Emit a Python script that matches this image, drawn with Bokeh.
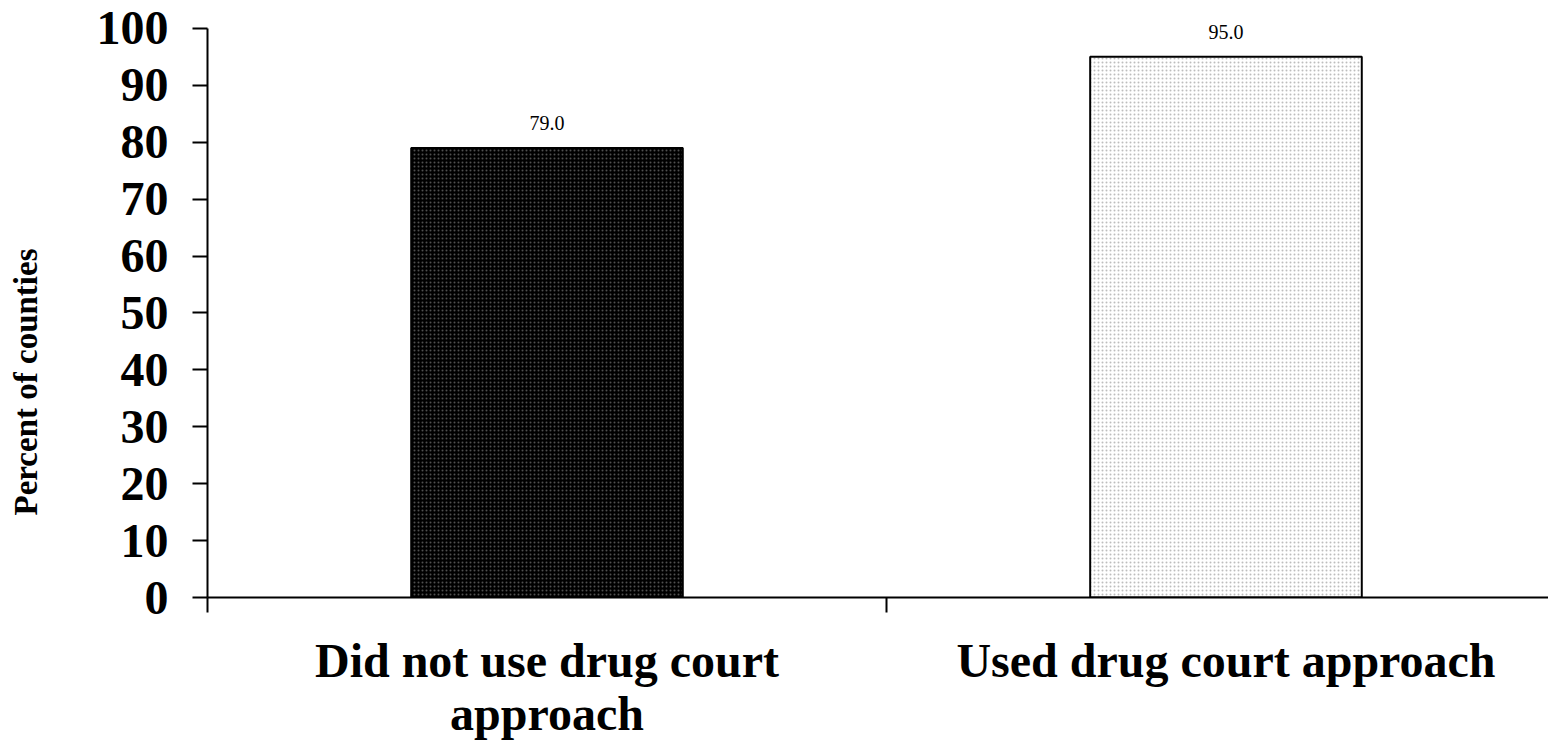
from bokeh.plotting import figure
from bokeh.models import FixedTicker, Range1d, ColumnDataSource, Title
from bokeh.core.properties import value
from bokeh.embed import file_html
from bokeh.resources import INLINE

categories = ["Did not use drug court\napproach", "Used drug court approach"]
percents = [79.0, 95.0]
value_labels = ["79.0", "95.0"]
fills = ["#000000", "#ffffff"]
hatch_colors = ["#505050", "#bdbdbd"]
y_ticks = [0, 10, 20, 30, 40, 50, 60, 70, 80, 90, 100]
y_title = "Percent of counties"

SERIF = "Liberation Serif"

x_pos = [i + 0.5 for i in range(len(categories))]
boundaries = [float(i) for i in range(len(categories) + 1)]
src = ColumnDataSource(dict(x=x_pos, top=percents, lab=value_labels,
                            fill=fills, hatch=hatch_colors))

p = figure(width=1548, height=744, output_backend="svg", toolbar_location=None,
           x_range=Range1d(0, 1.975), y_range=Range1d(0, 104.9),
           min_border_left=207, min_border_right=0, min_border_top=0,
           min_border_bottom=147)
p.outline_line_color = None
p.xgrid.visible = False
p.ygrid.visible = False
p.background_fill_color = "white"
p.border_fill_color = "white"

p.vbar(x="x", top="top", bottom=0, width=0.4, source=src,
       fill_color="fill", line_color="black", line_width=2,
       hatch_pattern="dot", hatch_color="hatch", hatch_scale=4, hatch_weight=1)

p.text(x="x", y="top", text="lab", source=src, text_align="center",
       text_baseline="middle", y_offset=-25,
       text_font=value(SERIF), text_font_size="20px", text_color="black")

# y axis
ya = p.yaxis[0]
ya.ticker = FixedTicker(ticks=y_ticks)
ya.bounds = (0, 100)
ya.major_tick_out = 15
ya.major_tick_in = 0
ya.minor_tick_line_color = None
ya.axis_line_width = 2
ya.major_tick_line_width = 2
ya.major_label_standoff = 24
ya.major_label_text_font = SERIF
ya.major_label_text_font_style = "bold"
ya.major_label_text_font_size = "48px"
ya.major_label_text_color = "black"
ya.axis_label = " "
ya.axis_label_standoff = 45
ya.axis_label_text_font_size = "1px"

# x axis: category labels (major), category boundaries (minor ticks)
xa = p.xaxis[0]
xa.ticker = FixedTicker(ticks=x_pos, minor_ticks=boundaries)
xa.major_label_overrides = {xp: c for xp, c in zip(x_pos, categories)}
xa.major_tick_line_color = None
xa.major_tick_out = 15
xa.major_tick_in = 0
xa.minor_tick_out = 15
xa.minor_tick_in = 0
xa.minor_tick_line_color = "black"
xa.minor_tick_line_width = 2
xa.axis_line_width = 2
xa.major_label_standoff = 21
xa.major_label_text_font = SERIF
xa.major_label_text_font_style = "bold"
xa.major_label_text_font_size = "48px"
xa.major_label_text_color = "black"
xa.major_label_text_line_height = 1.0

# y title
p.add_layout(Title(text=y_title, align="left", offset=82, standoff=0,
                   vertical_align="middle",
                   text_font=SERIF, text_font_style="bold",
                   text_font_size="33px", text_color="black"), "left")

open("out.html", "w").write(file_html(p, INLINE))
